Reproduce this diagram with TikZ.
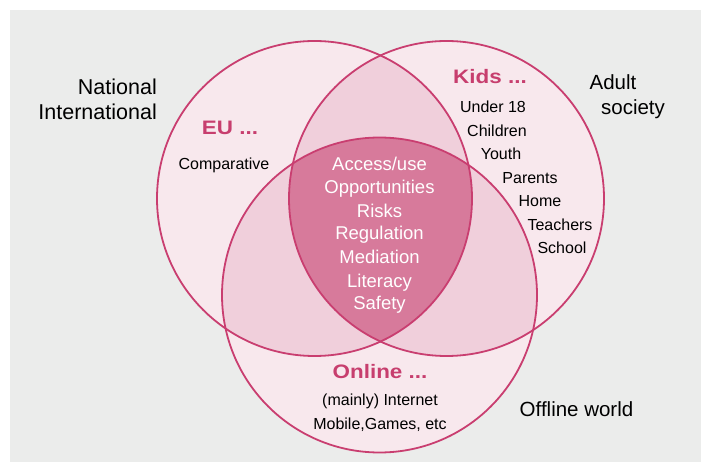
\documentclass[tikz,border=0pt]{standalone}
\usepackage{fontspec}
\usepackage{graphicx}
\setmainfont{Liberation Sans}
\definecolor{rim}{RGB}{201,62,112}
\definecolor{pale}{RGB}{248,232,237}
\definecolor{mid}{RGB}{240,207,219}
\definecolor{core}{RGB}{215,122,155}
\definecolor{bggray}{RGB}{235,236,235}
\definecolor{head}{RGB}{199,62,110}
\begin{document}
\begin{tikzpicture}[x=1pt,y=-1pt,
  lbl/.style={inner sep=0pt, text height=0.72em, text depth=0pt, yshift=-3pt},
  outerlbl/.style={lbl, font=\fontsize{20.5}{24}\selectfont, text=black},
  leftlbl/.style={lbl, font=\fontsize{21.5}{25}\selectfont, text=black, anchor=east},
  smalllbl/.style={lbl, font=\fontsize{16}{19}\selectfont, text=black},
  corelbl/.style={lbl, font=\fontsize{18.5}{22}\selectfont, text=white},
  headlbl/.style={lbl, font=\fontsize{19.5}{23}\selectfont\bfseries, text=head},
  ring/.style={draw=rim, line width=1.8pt}]
\useasboundingbox (0,0) rectangle (701,462);
\fill[bggray] (10,10) rectangle (701,462);
\coordinate (cL) at (314.5,198.5);
\coordinate (cR) at (446.5,198.5);
\coordinate (cB) at (379.5,295);
\def\rr{157.5pt}
% single regions
\fill[pale] (cL) circle[radius=\rr];
\fill[pale] (cR) circle[radius=\rr];
\fill[pale] (cB) circle[radius=\rr];
% pairwise overlaps
\begin{scope}
  \clip (cL) circle[radius=\rr];
  \fill[mid] (cR) circle[radius=\rr];
  \fill[mid] (cB) circle[radius=\rr];
\end{scope}
\begin{scope}
  \clip (cR) circle[radius=\rr];
  \fill[mid] (cB) circle[radius=\rr];
\end{scope}
% triple overlap
\begin{scope}
  \clip (cL) circle[radius=\rr];
  \clip (cR) circle[radius=\rr];
  \fill[core] (cB) circle[radius=\rr];
\end{scope}
% outlines
\draw[ring] (cL) circle[radius=\rr];
\draw[ring] (cR) circle[radius=\rr];
\draw[ring] (cB) circle[radius=\rr];
% outer labels
\node[leftlbl] (nat) at (157,88) {National};
\node[leftlbl] (intl) at (157,113) {International};
\node[outerlbl] (adult) at (613,83) {Adult};
\node[outerlbl] (soc) at (633,108) {society};
\node[outerlbl] (offl) at (576.5,410) {Offline world};
% heads
\node[headlbl] (eu) at (230,128) {\scalebox{1.15}[1]{EU ...}};
\node[headlbl] (kids) at (490,77) {\scalebox{1.15}[1]{Kids ...}};
\node[headlbl] (online) at (380,372) {\scalebox{1.15}[1]{Online ...}};
% EU
\node[smalllbl] (comp) at (224,163) {Comparative};
% Kids list
\node[smalllbl] (k1) at (493,106) {Under 18};
\node[smalllbl] (k2) at (497,130) {Children};
\node[smalllbl] (k3) at (501,153) {Youth};
\node[smalllbl] (k4) at (530,177) {Parents};
\node[smalllbl] (k5) at (540,200) {Home};
\node[smalllbl] (k6) at (560,224) {Teachers};
\node[smalllbl] (k7) at (562,247) {School};
% Online
\node[smalllbl] (o1) at (380,399) {(mainly) Internet};
\node[smalllbl] (o2) at (380,423) {Mobile,Games, etc};
% core
\node[corelbl] (c1) at (379.5,164) {Access/use};
\node[corelbl] (c2) at (379.5,187) {Opportunities};
\node[corelbl] (c3) at (379.5,211) {Risks};
\node[corelbl] (c4) at (379.5,233) {Regulation};
\node[corelbl] (c5) at (379.5,257) {Mediation};
\node[corelbl] (c6) at (379.5,281) {Literacy};
\node[corelbl] (c7) at (379.5,303) {Safety};
\end{tikzpicture}
\end{document}
